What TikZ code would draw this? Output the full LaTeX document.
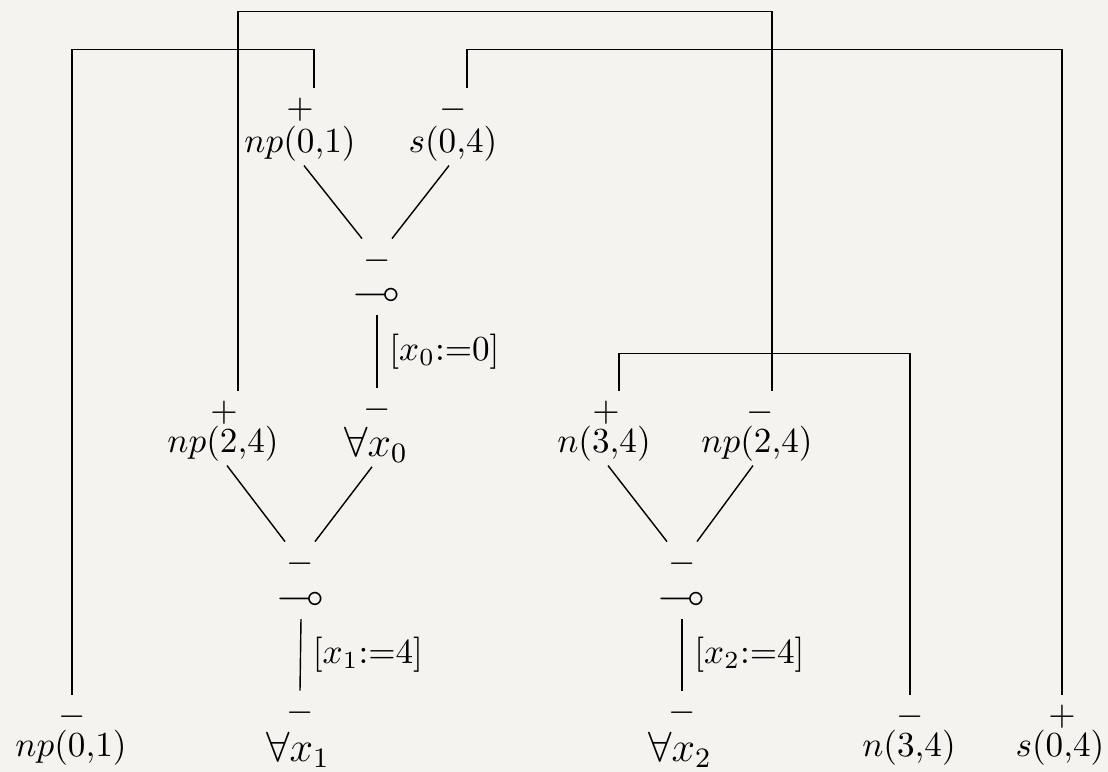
\documentclass[tikz,border=0pt]{standalone}
\usepackage{amssymb,amsmath}
\usepackage{xcolor}
\usepackage{tikz}

\definecolor{paper}{RGB}{245,243,239}

\begin{document}
\begin{tikzpicture}[x=0.01cm, y=0.01cm,
  fml/.style={inner sep=0pt, outer sep=.04cm},
  big/.style={fml, font=\large},
  sgn/.style={inner sep=0pt},
  lolli/.style={inner sep=0pt, font=\large}]

% paper background
\fill[paper] (0,0) rectangle (1108,772);
\useasboundingbox (0,0) rectangle (1108,772);

% Top link: np(0,1) -o s(0,4)
\node[fml] (np01t) at (300,628) {$np(0{,}1)$};
\node[sgn] (np01ts) at (300,662) {$+$};
\node[fml] (s04t) at (453,628) {$s(0{,}4)$};
\node[sgn] (s04ts) at (453,662) {$-$};
\node[lolli] (lo0) at (377,478) {$\multimap$};
\node[sgn] (lo0s) at (377,511) {$-$};
\node[big] (fx0) at (376,327) {$\forall x_0$};
\node[sgn] (fx0s) at (377,362) {$-$};

\draw ([xshift=.04cm]np01t.south) -- ([shift={(-.15cm,.1cm)}]lo0s.north);
\draw ([xshift=-.04cm]s04t.south) -- ([shift={(.15cm,.1cm)}]lo0s.north);
\draw ([yshift=-.21cm]lo0.center) -- ([yshift=.1cm]fx0s.north)
  node[midway,right] {$[x_0{:=}0]$};

% Left link: np(2,4) -o forall x0
\node[fml] (np24l) at (223,328) {$np(2{,}4)$};
\node[sgn] (np24ls) at (224,359) {$+$};
\node[lolli] (lo1) at (301,174) {$\multimap$};
\node[sgn] (lo1s) at (300,208) {$-$};
\node[big] (fx1) at (298,22) {$\forall x_1$};
\node[sgn] (fx1s) at (300,59) {$-$};

\draw ([xshift=.04cm]np24l.south) -- ([shift={(-.15cm,.1cm)}]lo1s.north);
\draw ([xshift=-.04cm]fx0.south) -- ([shift={(.15cm,.1cm)}]lo1s.north);
\draw ([yshift=-.21cm]lo1.center) -- ([yshift=.1cm]fx1s.north)
  node[midway,right] {$[x_1{:=}4]$};

% Right link: n(3,4) -o np(2,4)
\node[fml] (n34t) at (604,328) {$n(3{,}4)$};
\node[sgn] (n34ts) at (606,359) {$+$};
\node[fml] (np24r) at (757,328) {$np(2{,}4)$};
\node[sgn] (np24rs) at (760,359) {$-$};
\node[lolli] (lo2) at (682,174) {$\multimap$};
\node[sgn] (lo2s) at (682,208) {$-$};
\node[big] (fx2) at (680,22) {$\forall x_2$};
\node[sgn] (fx2s) at (682,59) {$-$};

\draw ([xshift=.04cm]n34t.south) -- ([shift={(-.15cm,.1cm)}]lo2s.north);
\draw ([xshift=-.04cm]np24r.south) -- ([shift={(.15cm,.1cm)}]lo2s.north);
\draw ([yshift=-.21cm]lo2.center) -- ([yshift=.1cm]fx2s.north)
  node[midway,right] {$[x_2{:=}4]$};

% Bottom row
\node[fml] (np01b) at (71,24) {$np(0{,}1)$};
\node[sgn] (np01bs) at (72,55) {$-$};
\node[fml] (n34b) at (909,24) {$n(3{,}4)$};
\node[sgn] (n34bs) at (910,55) {$-$};
\node[fml] (s04b) at (1060,24) {$s(0{,}4)$};
\node[sgn] (s04bs) at (1062,55) {$+$};

% Axis links
\draw ([shift={(.14cm,.1cm)}]np01ts.north) -- ++(0,38) -| ([yshift=.1cm]np01bs.north);
\draw ([shift={(.14cm,.1cm)}]np24ls.north) -- ++(0,379) -| ([shift={(.12cm,.1cm)}]np24rs.north);
\draw ([shift={(.14cm,.1cm)}]s04ts.north) -- ++(0,38) -| ([yshift=.1cm]s04bs.north);
\draw ([shift={(.13cm,.1cm)}]n34ts.north) -- ++(0,37) -| ([yshift=.1cm]n34bs.north);

\end{tikzpicture}
\end{document}
